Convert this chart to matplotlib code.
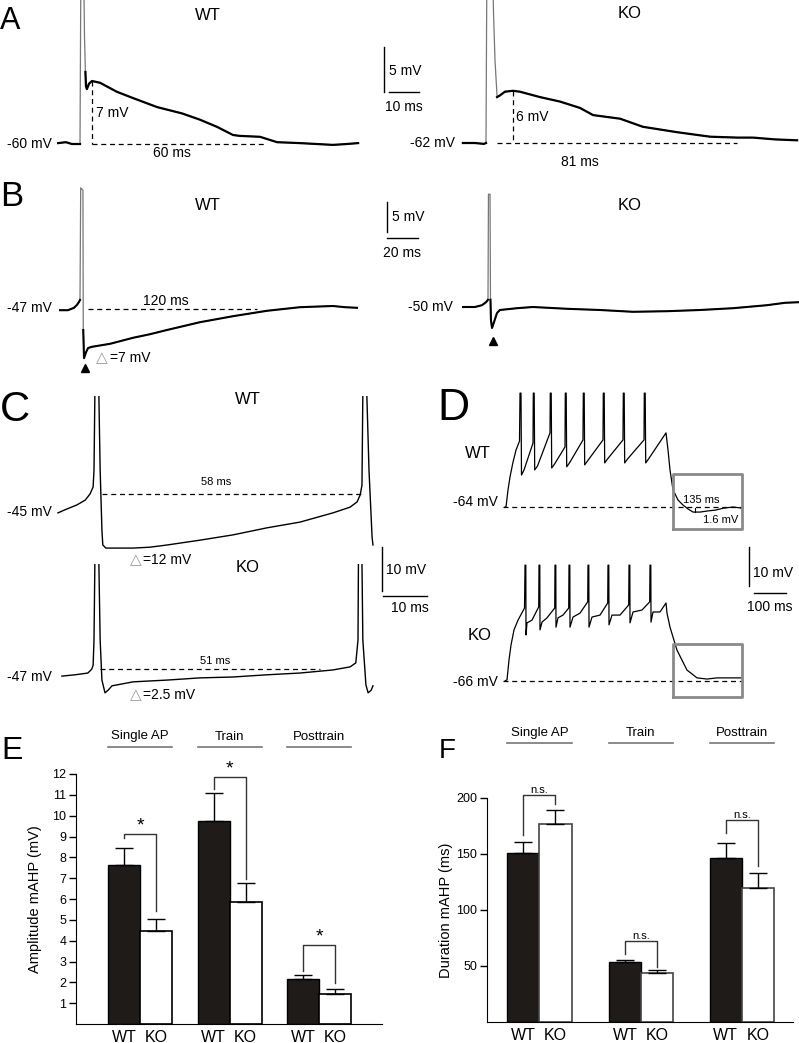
import numpy as np
import matplotlib
matplotlib.use('Agg')
import matplotlib.pyplot as plt
from matplotlib.patches import Rectangle

plt.rcParams['font.family'] = ['Liberation Sans', 'DejaVu Sans']

W, H = 799, 1043

# ---- A: single AP, ms / mV ----
a_wt_t = [-7.3, -4.7, -2.7, -0.7, 0.0, 0.3, 1.2, 1.5, 1.8, 2.0, 2.3, 3.0, 4.0, 6.7, 12.3, 17.7, 25.7,
          34.0, 40.0, 45.7, 51.0, 53.3, 60.0, 65.7, 73.3, 84.3, 89.0, 92.7]
a_wt_v = [-59.9, -59.8, -60.0, -60.0, -60.0, -40.0, -40.0, -48.0, -52.0, -53.6, -53.9, -53.3, -53.0, -53.2,
          -54.2, -54.9, -55.9, -56.6, -57.3, -58.1, -59.0, -59.1, -59.2, -59.8, -59.9, -60.1, -60.0, -59.9]
a_ko_t = [-7.7, -3.7, -0.7, 0.0, 0.3, 2.2, 2.5, 3.0, 3.7, 4.7, 6.3, 9.0, 11.3, 18.0, 24.7, 31.3, 35.7,
          44.7, 52.3, 63.7, 74.7, 83.7, 89.0, 96.3, 103.7]
a_ko_v = [-62.0, -62.0, -62.1, -62.0, -42.0, -42.0, -47.5, -52.8, -56.9, -56.7, -56.3, -56.2, -56.3,
          -56.9, -57.4, -58.1, -58.9, -59.3, -60.2, -60.8, -61.3, -61.4, -61.4, -61.6, -61.7]

# ---- B ----
b_wt_t = [-12.9, -7.7, -3.9, -1.9, -0.6, 0.0, 0.45, 1.9, 2.1, 2.6, 3.9, 5.2, 7.7, 19.4, 34.2, 45.2,
          56.1, 77.4, 98.7, 120.6, 141.9, 163.2, 171.0, 178.7]
b_wt_v = [-47.2, -47.2, -46.8, -46.3, -45.8, -45.5, -26.8, -27.2, -50.5, -55.2, -54.2, -53.5, -53.3,
          -52.8, -51.8, -51.2, -50.5, -49.2, -48.2, -47.3, -46.7, -46.5, -46.7, -46.8]
b_ko_t = [-16.1, -8.4, -3.9, -1.3, 0.0, 0.3, 1.3, 1.6, 1.9, 2.6, 3.9, 5.8, 7.7, 18.7, 29.0, 51.0,
          72.3, 93.5, 115.5, 136.8, 158.1, 180.0, 191.6, 200.6]
b_ko_v = [-50.0, -50.0, -49.7, -49.2, -48.8, -31.2, -31.2, -48.8, -52.2, -53.5, -52.5, -51.0, -50.5,
          -50.2, -50.0, -50.3, -50.5, -50.8, -50.7, -50.5, -50.2, -49.7, -49.3, -49.2]

# ---- C ----
c_wt_t = [-8.2, -6.6, -3.9, -2.0, -0.9, -0.2, 0.0, 0.2, 1.1, 1.4, 1.8, 2.0, 2.7, 5.2, 8.9, 12.7, 16.6,
          24.1, 31.6, 39.3, 46.8, 54.3, 58.2, 59.8, 60.5, 60.9, 61.1, 62.0, 62.5, 63.2, 63.4]
c_wt_v = [-45.2, -44.5, -43.4, -42.3, -40.9, -39.3, -35.5, -18.2, -18.2, -35.5, -49.1, -52.5, -53.2,
          -53.2, -53.2, -53.0, -52.5, -51.4, -50.2, -48.6, -47.3, -45.2, -43.9, -42.7, -41.1, -38.9,
          -18.2, -18.2, -35.5, -50.7, -52.5]
c_ko_t = [-7.3, -4.3, -1.4, -0.5, -0.2, 0.0, 0.2, 1.1, 1.4, 1.8, 2.5, 3.2, 4.1, 5.2, 8.9, 16.6, 24.1,
          31.6, 39.3, 46.8, 54.3, 58.2, 59.5, 60.0, 60.1, 60.9, 61.1, 61.8, 62.3, 63.0, 63.4]
c_ko_v = [-46.8, -46.5, -46.1, -45.2, -44.3, -38.6, -20.9, -20.9, -38.6, -47.7, -50.6, -50.0, -49.0,
          -48.8, -48.1, -47.7, -47.2, -47.0, -46.5, -46.1, -45.4, -44.7, -43.8, -38.6, -20.9, -20.9,
          -38.6, -48.8, -50.6, -50.0, -49.0]

# ---- D: train ----
d_wt_t = [-3.1, 0.0, 6.3, 12.5, 21.9, 31.3, 42.2, 43.8, 46.9, 48.4, 56.3, 84.4, 85.3, 88.1, 89.7, 98.4,
          137.5, 138.4, 141.3, 142.8, 151.6, 184.4, 185.3, 188.1, 189.7, 198.4, 240.6, 241.6, 244.4,
          245.9, 254.7, 303.1, 304.1, 306.9, 308.4, 317.2, 365.6, 366.6, 369.4, 370.9, 379.7, 431.3,
          432.2, 435.0, 436.6, 445.3, 500.0, 506.3, 512.5, 521.9, 537.5, 553.1, 568.8, 584.4, 606.3,
          631.3, 654.4, 679.4, 709.4, 737.5]
d_wt_v = [-64.0, -64.0, -59.6, -56.3, -52.5, -49.4, -47.1, -34.8, -34.8, -55.8, -54.5, -47.6, -34.8,
          -34.8, -54.5, -53.5, -45.0, -34.8, -34.8, -54.0, -53.0, -48.6, -34.8, -34.8, -53.7, -52.7,
          -46.8, -34.8, -34.8, -53.2, -52.2, -46.8, -34.8, -34.8, -52.7, -51.7, -46.8, -34.8, -34.8,
          -52.7, -51.7, -46.8, -34.8, -34.8, -52.7, -51.7, -45.0, -49.4, -54.5, -59.6, -62.2, -63.5,
          -64.5, -65.3, -65.3, -65.0, -64.8, -64.3, -64.0, -64.3]
d_ko_t = [-6.3, 0.0, 6.3, 12.5, 21.9, 34.4, 54.7, 56.3, 58.8, 59.4, 62.5, 78.1, 99.1, 100.0, 102.5,
          103.1, 109.4, 125.0, 149.1, 150.0, 152.5, 153.1, 159.4, 175.0, 192.8, 193.8, 196.3, 196.9,
          206.3, 228.1, 252.2, 253.1, 255.6, 256.3, 265.6, 290.6, 314.7, 315.6, 318.1, 318.8, 328.1,
          353.1, 380.3, 381.3, 383.8, 384.4, 393.8, 421.9, 445.9, 446.9, 449.4, 450.0, 456.3, 478.1,
          496.9, 500.0, 509.4, 531.3, 562.5, 593.8, 625.0, 656.3, 696.9, 734.4]
d_ko_v = [-66.0, -65.7, -60.6, -56.8, -52.9, -50.4, -47.3, -36.3, -36.3, -54.2, -51.1, -50.4, -47.0,
          -36.3, -36.3, -52.9, -50.9, -49.8, -47.3, -36.3, -36.3, -52.2, -49.8, -49.1, -47.3, -36.3,
          -36.3, -52.2, -49.6, -48.6, -45.7, -36.3, -36.3, -52.2, -49.6, -49.1, -46.0, -36.3, -36.3,
          -51.6, -49.1, -49.1, -46.5, -36.3, -36.3, -51.1, -48.3, -47.8, -45.7, -36.3, -36.3, -50.9,
          -48.3, -48.3, -46.0, -48.6, -52.2, -58.1, -63.2, -65.2, -65.5, -65.2, -65.2, -65.2]

# ---- E / F bar data ----
groups = ['Single AP', 'Train', 'Posttrain']
amp_wt = [7.65, 9.75, 2.18]
amp_wt_err = [0.8, 1.35, 0.17]
amp_ko = [4.45, 5.88, 1.42]
amp_ko_err = [0.57, 0.88, 0.27]
amp_bracket = [9.12, 11.84, 3.79]
amp_arm_wt = [8.93, 11.28, 2.53]
amp_arm_ko = [5.44, 6.96, 1.97]

dur_wt = [151, 53.5, 146.5]
dur_wt_err = [10, 2, 13.5]
dur_ko = [176.5, 44, 119.5]
dur_ko_err = [13, 2, 13.5]
dur_bracket = [202.8, 72.7, 180.3]
dur_arm_wt = [166.6, 60.7, 168.4]
dur_arm_ko = [194.4, 49.3, 139.7]

fig = plt.figure(figsize=(W / 100, H / 100), dpi=100)


def ftext(x, y, s, size=10, ha='left', va='center', **kw):
    fig.text(x / W, 1 - y / H, s, fontsize=size, ha=ha, va=va, **kw)


def trace_ax(x0, y0, v0, px_ms, px_mv):
    # full-figure axes where t=0 sits at pixel x0 and v0 at pixel y0
    ax = fig.add_axes([0, 0, 1, 1])
    ax.set_xlim(-x0 / px_ms, (W - x0) / px_ms)
    ax.set_ylim(v0 - (H - y0) / px_mv, v0 + y0 / px_mv)
    ax.axis('off')
    return ax


def draw_trace(ax, t, v, lw, spike_above=None, ceiling=None):
    t = np.array(t)
    v = np.array(v)
    if spike_above is None:
        lines = ax.plot(t, v, color='black', lw=lw)
    else:
        lines = ax.plot(t, v, color='#777777', lw=0.9)
        lines += ax.plot(t, np.where(v > spike_above, np.nan, v), color='black', lw=lw)
    if ceiling is not None:
        x0, x1 = ax.get_xlim()
        y0 = ax.get_ylim()[0]
        clip = Rectangle((x0, y0), x1 - x0, ceiling - y0, transform=ax.transData)
        for ln in lines:
            ln.set_clip_path(clip)


def dashed(ax, t0, t1, v0, v1):
    ax.plot([t0, t1], [v0, v1], color='black', lw=0.9, dashes=(4, 3))


def scalebar(ax, t, v, dt, dv, gap_t, gap_v):
    ax.plot([t, t], [v, v + dv], color='black', lw=1)
    ax.plot([t + gap_t, t + gap_t + dt], [v - gap_v, v - gap_v], color='black', lw=1)


def box(ax, t0, t1, v0, v1):
    ax.plot([t0, t1, t1, t0, t0], [v0, v0, v1, v1, v0], color='#8a8a8a', lw=2)


# ---------- A ----------
ax = trace_ax(80, 144, -60, 3.0, 9.0)
draw_trace(ax, a_wt_t, a_wt_v, 1.6, spike_above=-50)
dashed(ax, 4.0, 4.0, -53.0, -60.0)
dashed(ax, 4.0, 62.3, -60.0, -60.0)
scalebar(ax, 101.3, -54.2, 10, 5, 1.7, 0)
ax = trace_ax(486, 143, -62, 3.0, 9.0)
draw_trace(ax, a_ko_t, a_ko_v, 1.6, spike_above=-54)
dashed(ax, 9.0, 9.0, -56.2, -62.0)
dashed(ax, 3.7, 83.7, -62.0, -62.0)

ftext(0, 21, 'A', size=22)
ftext(208, 15, 'WT', size=12, ha='center')
ftext(630, 13, 'KO', size=12, ha='center')
ftext(52, 144, '-60 mV', ha='right')
ftext(96, 113, '7 mV')
ftext(172, 153, '60 ms', ha='center')
ftext(455, 143, '-62 mV', ha='right')
ftext(516, 117, '6 mV')
ftext(580, 162, '81 ms', ha='center')
ftext(389, 71, '5 mV')
ftext(404, 107, '10 ms', ha='center')

# ---------- B ----------
ax = trace_ax(80, 309, -47, 1.55, 6.0)
draw_trace(ax, b_wt_t, b_wt_v, 1.5, spike_above=-44)
dashed(ax, 5.2, 114.2, -47.0, -47.0)
scalebar(ax, 198.1, -34.2, 20, 5, 0, 1.0)
ax.plot([3.2], [-56.8], marker='^', color='black', ms=6)
ax = trace_ax(488, 307, -50, 1.55, 6.0)
draw_trace(ax, b_ko_t, b_ko_v, 1.5, spike_above=-47)
ax.plot([3.2], [-55.7], marker='^', color='black', ms=6)

ftext(0, 197, 'B', size=25)
ftext(208, 205, 'WT', size=12, ha='center')
ftext(630, 205, 'KO', size=12, ha='center')
ftext(52, 308, '-47 mV', ha='right')
ftext(166, 301, '120 ms', ha='center')
ftext(102, 358, '△', ha='center', color='#999999', size=11)
ftext(110, 358, '=7 mV')
ftext(453, 307, '-50 mV', ha='right')
ftext(392, 217, '5 mV')
ftext(402, 253, '20 ms', ha='center')

# ---------- C ----------
ax = trace_ax(94, 512, -45, 4.4, 4.4)
draw_trace(ax, c_wt_t, c_wt_v, 1.0, ceiling=-18.6)
dashed(ax, 1.8, 60.9, -40.9, -40.9)
scalebar(ax, 65.5, -63.0, 10, 10, 0.2, 1.1)
ax = trace_ax(94, 677, -47, 4.4, 4.4)
draw_trace(ax, c_ko_t, c_ko_v, 1.0, ceiling=-21.3)
dashed(ax, 1.4, 51.4, -45.2, -45.2)

ftext(0, 410, 'C', size=30)
ftext(248, 400, 'WT', size=12, ha='center')
ftext(248, 567, 'KO', size=12, ha='center')
ftext(52, 512, '-45 mV', ha='right')
ftext(216, 482, '58 ms', ha='center', size=8)
ftext(136, 560, '△', ha='center', color='#999999', size=11)
ftext(143, 560, '=12 mV')
ftext(52, 677, '-47 mV', ha='right')
ftext(215, 661, '51 ms', ha='center', size=8)
ftext(136, 695, '△', ha='center', color='#999999', size=11)
ftext(143, 695, '=2.5 mV')
ftext(386, 570, '10 mV')
ftext(410, 608, '10 ms', ha='center')

# ---------- D ----------
ax = trace_ax(506, 507, -64, 0.32, 3.9)
draw_trace(ax, d_wt_t, d_wt_v, 0.9)
dashed(ax, -9.4, 740.6, -64.0, -64.0)
box(ax, 521.9, 737.5, -69.6, -55.5)
ax.plot([590.6, 590.6], [-64.3, -65.3], color='black', lw=0.8)
scalebar(ax, 759.4, -84.3, 100, 10, 15.6, 1.8)
ax = trace_ax(507, 681, -66, 0.32, 3.9)
draw_trace(ax, d_ko_t, d_ko_v, 0.9)
dashed(ax, -12.5, 737.5, -66.0, -66.0)
box(ax, 518.8, 734.4, -70.1, -56.5)

ftext(437, 409, 'D', size=32)
ftext(465, 454, 'WT', size=12)
ftext(468, 635, 'KO', size=12)
ftext(498, 502, '-64 mV', ha='right')
ftext(683, 500, '135 ms', size=8)
ftext(703, 520, '1.6 mV', size=8)
ftext(498, 682, '-66 mV', ha='right')
ftext(753, 573, '10 mV')
ftext(770, 607, '100 ms', ha='center')


# ---------- E / F bars ----------
def bar_panel(rect, centers, wt, wt_err, ko, ko_err, bracket, arm_wt, arm_ko, mark, mark_size,
              yticks, ylim, ylabel, label_y, line_y, ko_edge):
    ax = fig.add_axes(rect)
    centers = np.array(centers)
    xw = centers - 0.5
    xk = centers + 0.5
    ax.bar(xw, wt, width=1.0, color='#1f1b18', edgecolor='black', lw=1, zorder=2)
    ax.bar(xk, ko, width=1.0, color='white', edgecolor=ko_edge, lw=1.2, zorder=2)
    ax.errorbar(xw, wt, yerr=[np.zeros(3), wt_err], fmt='none', ecolor='black',
                elinewidth=1, capsize=6.5, capthick=1, zorder=3)
    ax.errorbar(xk, ko, yerr=[np.zeros(3), ko_err], fmt='none', ecolor='black',
                elinewidth=1, capsize=6.5, capthick=1, zorder=3)
    for i in range(3):
        ax.plot([xw[i], xw[i], xk[i], xk[i]], [arm_wt[i], bracket[i], bracket[i], arm_ko[i]],
                color='#333333', lw=1, zorder=3, clip_on=False)
        ax.text(centers[i], bracket[i], mark, ha='center', va='bottom', fontsize=mark_size)
        ax.text(centers[i], label_y, groups[i], ha='center', va='center', fontsize=9.5,
                clip_on=False)
        ax.plot([centers[i] - 1, centers[i] + 1], [line_y, line_y], color='#777777', lw=1.2,
                clip_on=False)
    ax.set_xlim(0, 9.56)
    ax.set_ylim(*ylim)
    ax.set_yticks(yticks)
    ax.tick_params(axis='y', direction='out', length=5, width=1, labelsize=9, pad=2)
    ax.set_xticks(np.concatenate([xw, xk]))
    ax.set_xticklabels(['WT'] * 3 + ['KO'] * 3, fontsize=11.5)
    ax.tick_params(axis='x', length=0, pad=4)
    ax.spines['top'].set_visible(False)
    ax.spines['right'].set_visible(False)
    ax.set_ylabel(ylabel, fontsize=10.5)
    ax.yaxis.set_label_coords(-0.11, 0.5)
    return ax


bar_panel([76 / W, (H - 1024) / H, 306 / W, 250 / H], [2.0, 4.8, 7.6],
          amp_wt, amp_wt_err, amp_ko, amp_ko_err, amp_bracket, amp_arm_wt, amp_arm_ko,
          '*', 14, list(range(1, 13)), (0, 12), 'Amplitude mAHP (mV)', 13.8, 13.3, 'black')
bar_panel([487 / W, (H - 1022) / H, 306 / W, 224 / H], [1.64, 4.81, 7.96],
          dur_wt, dur_wt_err, dur_ko, dur_ko_err, dur_bracket, dur_arm_wt, dur_arm_ko,
          'n.s.', 8, [50, 100, 150, 200], (0, 200), 'Duration mAHP (ms)', 258, 249, '#444444')

ftext(1, 751, 'E', size=23)
ftext(439, 751, 'F', size=20)

fig.savefig('out.png', dpi=100)
